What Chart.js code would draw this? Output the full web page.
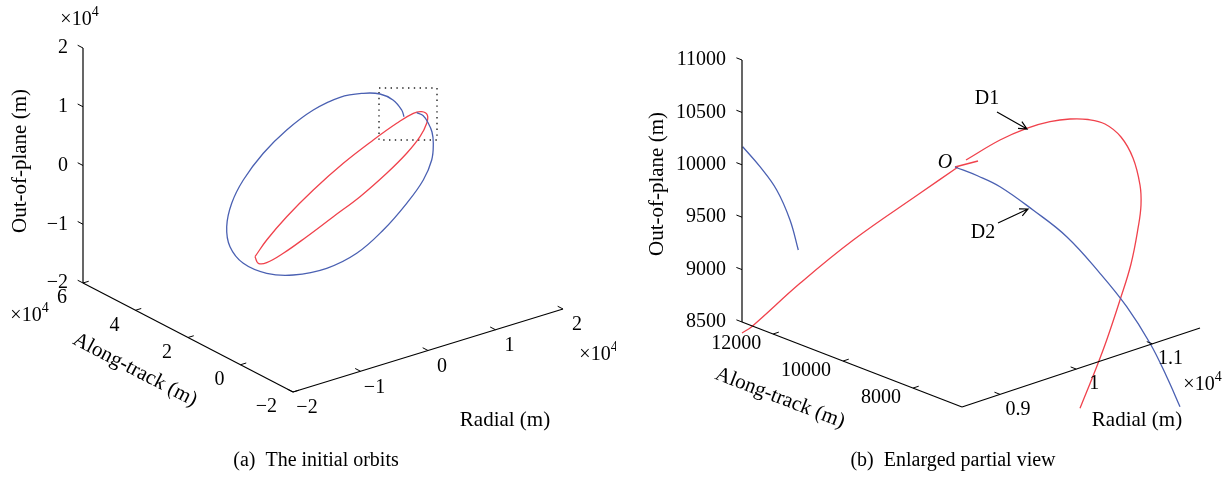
<!DOCTYPE html>
<html>
<head>
<meta charset="utf-8">
<script src="https://cdn.jsdelivr.net/npm/chart.js@4.4.1/dist/chart.umd.min.js"></script>
<style>
  body { margin: 0; background: #fff; }
  #wrap { position: relative; width: 1232px; height: 477px; }
  canvas { position: absolute; top: 0; }
</style>
</head>
<body>
<div id="wrap">
  <canvas id="orbits" width="616" height="477" style="left:0"></canvas>
  <canvas id="enlarged" width="616" height="477" style="left:616px"></canvas>
</div>
<script>
// ---------- (a) The initial orbits : curves in projected view units ----------
const blueOrbitA = [[416.7,112.7],[423,115.5],[428.3,123.3],[432,132],[433.3,143.3],[431.7,160],[423.3,180],
  [406.7,203.3],[383.3,230],[356.7,253.3],[326.7,268.3],[293.3,275],[266.7,273.3],[243.3,263.3],[230,246.7],
  [226.7,226.7],[231.7,203.3],[243.3,180],[263.3,153.3],[286.7,130],[313.3,110],[340,97.3],[363.3,93.3],
  [380,94],[393,100],[401.7,110],[404,116.7]];
const redOrbitA = [[255,256.7],[266.7,240],[286.7,216.7],[313.3,190],[343.3,163.3],[373.3,140],[396.7,123.3],
  [413.3,113.3],[421.7,111.7],[427.3,115],[426.7,123.3],[420,136.7],[406.7,153.3],[386.7,173.3],[360,196.7],
  [333.3,216.7],[306.7,236.7],[283.3,253.3],[266.7,262.7],[258.3,263.3],[255,256.7]];
const zoomBoxA = [[379,88],[437,88],[437,140],[379,140],[379,88]];

const outTicksA = [-2, -1, 0, 1, 2];
const alongTicksA = [6, 4, 2, 0, -2];
const radialTicksA = [-2, -1, 0, 1, 2];

// ---------- (b) Enlarged partial view ----------
const blueArcB1 = [[742.7,146.7],[760,166.7],[776.7,190],[790,220],[798.3,250]];
const blueArcD2 = [[955,167],[978,176],[1000,186.7],[1033,210],[1066.7,236.7],[1100,273.3],[1126.7,306.7],
  [1150,343.3],[1166.7,376.7],[1180,406.7]];
const redLineB = [[742,333],[751.7,326.7],[800,283.3],[853.3,240],[920,193.3],[958,167]];
const redStubB = [[955,167],[978,161]];
const redArcD1 = [[966,160],[1000,140],[1026.7,128.3],[1050,121.7],[1070,119],[1088,119.5],[1105,124],[1121,137],
  [1133,158],[1140,185],[1141,205],[1138.3,226.7],[1131,264],[1120,300],[1106.7,340],[1096.7,366.7],[1080,408.3]];

const outTicksB = [8500, 9000, 9500, 10000, 10500, 11000];
const alongTicksB = [12000, 10000, 8000];
const radialTicksB = [0.9, 1, 1.1];

const BLUE = '#4a60b2';
const RED = '#f0424c';
const FONT = '"Liberation Serif", "DejaVu Serif", serif';

// axis geometry (view units) and value range at each end
const axesA = {
  out:    { p0: [83, 283], p1: [83, 48], v0: -2, v1: 2 },
  along:  { p0: [83, 283], p1: [293, 392], v0: 6, v1: -2 },
  radial: { p0: [293, 392], p1: [563, 309], v0: -2, v1: 2 }
};
const axesB = {
  out:    { p0: [742, 322], p1: [742, 60], v0: 8500, v1: 11000 },
  along:  { p0: [742, 322], p1: [962, 407], v0: 12890, v1: 6600 },
  radial: { p0: [962, 407], p1: [1200, 328], v0: 0.85, v1: 1.1625 }
};

function onAxis(ax, v) {
  const t = (v - ax.v0) / (ax.v1 - ax.v0);
  return [ax.p0[0] + t * (ax.p1[0] - ax.p0[0]), ax.p0[1] + t * (ax.p1[1] - ax.p0[1])];
}
function unit(ax) {
  const dx = ax.p1[0] - ax.p0[0], dy = ax.p1[1] - ax.p0[1], l = Math.hypot(dx, dy);
  return [dx / l, dy / l];
}
function fmt(v) { return String(v).replace('-', '\u2212'); }

function line(points, color, width, opts) {
  return Object.assign({
    data: points.map(p => ({ x: p[0], y: p[1] })),
    showLine: true, borderColor: color, borderWidth: width,
    pointRadius: 0, fill: false, tension: 0
  }, opts || {});
}

function axisSets(axes, ticks) {
  const sets = [];
  ['out', 'along', 'radial'].forEach(k => sets.push(line([axes[k].p0, axes[k].p1], '#000', 1.2)));
  const ua = unit(axes.along), ur = unit(axes.radial);
  const dir = { out: [-ua[0], -ua[1]], along: ur, radial: [-ua[0], -ua[1]] };
  ['out', 'along', 'radial'].forEach(k => {
    ticks[k].forEach(v => {
      const p = onAxis(axes[k], v);
      sets.push(line([p, [p[0] + 6 * dir[k][0], p[1] + 6 * dir[k][1]]], '#000', 1));
    });
  });
  return sets;
}

function tickTexts(axes, ticks, place) {
  const out = [];
  ['out', 'along', 'radial'].forEach(k => {
    ticks[k].forEach(v => {
      const p = onAxis(axes[k], v);
      out.push({ text: fmt(v), at: [p[0] + place[k].dx, p[1] + place[k].dy], align: place[k].align });
    });
  });
  return out;
}

function angleOf(ax) { const u = unit(ax); return Math.atan2(u[1], u[0]); }

const textPlugin = {
  id: 'texts',
  afterDatasetsDraw(chart, args, opts) {
    const { ctx } = chart;
    const sx = chart.scales.x, sy = chart.scales.y;
    const px = p => [sx.getPixelForValue(p[0]), sy.getPixelForValue(p[1])];
    ctx.save();
    ctx.fillStyle = '#000';
    (opts.items || []).forEach(it => {
      const [x, y] = px(it.at);
      ctx.save();
      ctx.translate(x, y);
      if (it.rotate) ctx.rotate(it.rotate);
      ctx.font = (it.italic ? 'italic ' : '') + (it.size || 20) + 'px ' + FONT;
      ctx.textAlign = it.align || 'center';
      ctx.textBaseline = 'middle';
      if (it.sup) {
        const w = ctx.measureText(it.text).width;
        ctx.textAlign = 'left';
        ctx.fillText(it.text, -w / 2 - 4, 0);
        ctx.font = '14px ' + FONT;
        ctx.fillText(it.sup, w / 2 - 4, -8);
      } else {
        ctx.fillText(it.text, 0, 0);
      }
      ctx.restore();
    });
    (opts.arrows || []).forEach(a => {
      const [x0, y0] = px(a.from), [x1, y1] = px(a.to);
      const ang = Math.atan2(y1 - y0, x1 - x0), L = 9, h = 0.45;
      ctx.strokeStyle = '#000';
      ctx.lineWidth = 1.2;
      ctx.beginPath();
      ctx.moveTo(x0, y0); ctx.lineTo(x1, y1);
      ctx.moveTo(x1 - L * Math.cos(ang - h), y1 - L * Math.sin(ang - h));
      ctx.lineTo(x1, y1);
      ctx.lineTo(x1 - L * Math.cos(ang + h), y1 - L * Math.sin(ang + h));
      ctx.stroke();
    });
    ctx.restore();
  }
};

function makeChart(id, xmin, datasets, items, arrows) {
  return new Chart(document.getElementById(id), {
    type: 'scatter',
    data: { datasets },
    options: {
      responsive: false, animation: false, events: [],
      layout: { padding: 0 },
      scales: {
        x: { type: 'linear', min: xmin, max: xmin + 616, display: false },
        y: { type: 'linear', min: 0, max: 477, reverse: true, display: false }
      },
      plugins: { legend: { display: false }, tooltip: { enabled: false }, texts: { items, arrows } }
    },
    plugins: [textPlugin]
  });
}

// ---------- panel (a) ----------
const ticksA = { out: outTicksA, along: alongTicksA, radial: radialTicksA };
const setsA = axisSets(axesA, ticksA).concat([
  line(blueOrbitA, BLUE, 1.3, { tension: 0.4 }),
  line(redOrbitA, RED, 1.3, { tension: 0.4 }),
  line(zoomBoxA, '#222', 1.4, { borderDash: [1.4, 4.4] })
]);
const textsA = tickTexts(axesA, ticksA, {
  out: { dx: -15, dy: 0, align: 'right' },
  along: { dx: -16, dy: 15, align: 'right' },
  radial: { dx: 14, dy: 16, align: 'center' }
}).concat([
  { text: '\u00d710', sup: '4', at: [80, 20] },
  { text: '\u00d710', sup: '4', at: [30, 316] },
  { text: '\u00d710', sup: '4', at: [599, 355] },
  { text: 'Out-of-plane (m)', at: [20, 161], rotate: -Math.PI / 2, size: 21 },
  { text: 'Along-track (m)', at: [135, 370], rotate: angleOf(axesA.along), size: 21 },
  { text: 'Radial (m)', at: [505, 420], size: 21 },
  { text: '(a)  The initial orbits', at: [316, 461], size: 20 }
]);
makeChart('orbits', 0, setsA, textsA, []);

// ---------- panel (b) ----------
const ticksB = { out: outTicksB, along: alongTicksB, radial: radialTicksB };
const setsB = axisSets(axesB, ticksB).concat([
  line(blueArcB1, BLUE, 1.3, { tension: 0.4 }),
  line(blueArcD2, BLUE, 1.3, { tension: 0.4 }),
  line(redLineB, RED, 1.3, { tension: 0.4 }),
  line(redStubB, RED, 1.3),
  line(redArcD1, RED, 1.3, { tension: 0.4 })
]);
const textsB = tickTexts(axesB, ticksB, {
  out: { dx: -16, dy: 0, align: 'right' },
  along: { dx: -12, dy: 10, align: 'right' },
  radial: { dx: 18, dy: 15, align: 'center' }
}).concat([
  { text: '\u00d710', sup: '4', at: [1203, 385] },
  { text: 'Out-of-plane (m)', at: [657, 184], rotate: -Math.PI / 2, size: 21 },
  { text: 'Along-track (m)', at: [780, 398], rotate: angleOf(axesB.along), size: 21 },
  { text: 'Radial (m)', at: [1137, 420], size: 21 },
  { text: 'D1', at: [987, 99] },
  { text: 'D2', at: [983, 233] },
  { text: 'O', at: [945, 163], italic: true },
  { text: '(b)  Enlarged partial view', at: [953, 461], size: 20 }
]);
makeChart('enlarged', 616, setsB, textsB, [
  { from: [997, 112], to: [1027, 129] },
  { from: [998, 223], to: [1028, 209] }
]);
</script>
</body>
</html>
